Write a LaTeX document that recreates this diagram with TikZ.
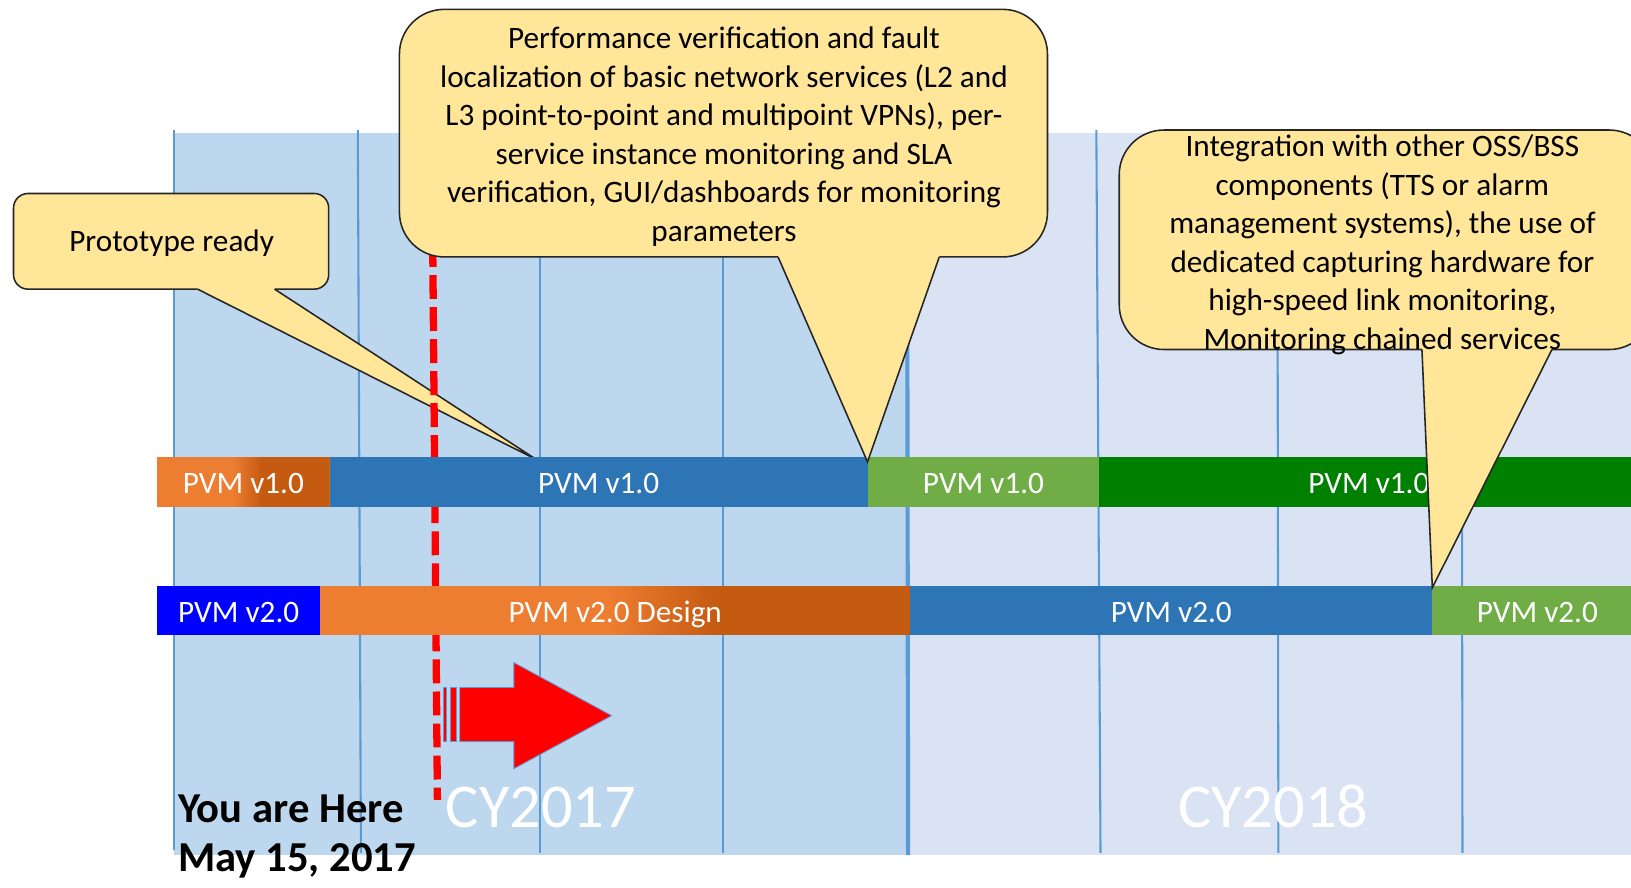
\documentclass[tikz,border=0pt]{standalone}
\usepackage{fontspec}
\setmainfont{Carlito}
\usetikzlibrary{calc}

\definecolor{panelL}{HTML}{BDD7EE}
\definecolor{panelR}{HTML}{DAE3F3}
\definecolor{gridln}{HTML}{5B9BD5}
\definecolor{barblue}{HTML}{2E75B6}
\definecolor{barlime}{HTML}{70AD47}
\definecolor{bargreen}{HTML}{008000}
\definecolor{barpure}{HTML}{0000FF}
\definecolor{orgA}{HTML}{ED7D31}
\definecolor{orgB}{HTML}{C55A11}
\definecolor{notefill}{HTML}{FFE699}
\definecolor{noteline}{HTML}{262626}

\begin{document}
\begin{tikzpicture}[x=1pt,y=1pt,
  gridline/.style={draw=gridln, line width=2pt},
  bar/.style={anchor=west, minimum height=48pt, inner sep=0pt, outer sep=0pt,
    text=white, font=\fontsize{30}{36}\selectfont, text height=22.5pt, text depth=0pt},
  % orange bar that fades from light to dark orange between fractions #1 and #2
  orangebar/.style 2 args={bar, fill=orgA, path picture={
    \coordinate (pw) at (path picture bounding box.south west);
    \coordinate (pe) at (path picture bounding box.south east);
    \coordinate (qw) at (path picture bounding box.north west);
    \coordinate (qe) at (path picture bounding box.north east);
    \foreach \k in {0,...,29} {
      \pgfmathsetmacro\fa{#1+(#2-#1)*\k/30}
      \pgfmathsetmacro\fb{#1+(#2-#1)*(\k+1.2)/30}
      \pgfmathtruncatemacro\pc{100*(\k+0.5)/30}
      \fill[orgB!\pc!orgA] ($(pw)!\fa!(pe)$) rectangle ($(qw)!\fb!(qe)$);
    }
    \fill[orgB] ($(pw)!#2!(pe)$) rectangle (qe);
  }},
  notebox/.style={fill=notefill, draw=noteline, line width=1.5pt},
  tailfill/.style={fill=notefill},
  tailline/.style={draw=noteline, line width=1.5pt},
  notetext/.style={font=\fontsize{30}{37}\selectfont, align=center, inner sep=0pt},
  arrowpart/.style={fill=red, draw=gridln, line width=0.8pt},
  yeartext/.style={anchor=base, text=white, inner sep=0pt, font=\fontsize{60}{72}\selectfont},
  heretext/.style={anchor=base west, inner sep=0pt, font=\bfseries\fontsize{41}{47}\selectfont},
]
\useasboundingbox (0,0) rectangle (1568,-853);

% year panels
\fill[panelL] (167,-127.5) rectangle (872,-822);
\fill[panelR] (872,-127.5) rectangle (1568,-822);

% quarter lines
\draw[gridline] (167,-125) -- (167,-817);
\draw[gridline] (344,-125) -- (347,-820);
\draw[gridline] (519,-125) -- (519,-820);
\draw[gridline] (695,-125) -- (695,-820);
\draw[gridline, line width=4pt] (872,-125) -- (873,-822);
\draw[gridline] (1054,-125) -- (1058,-820);
\draw[gridline] (1228,-125) -- (1229,-820);
\draw[gridline] (1405,-125) -- (1406,-820);

% "Prototype ready" callout
\draw[notebox, rounded corners=14pt] (13,-186) rectangle (316,-278);
\fill[tailfill] (190,-278) -- (516,-442) -- (264,-278) -- (264,-275) -- (190,-275) -- cycle;
\draw[tailline] (190,-278) -- (516,-442) -- (264,-278);
\node[notetext, anchor=base] (proto) at (165,-242) {Prototype ready};

% today marker
\draw[red, line width=7pt, dash pattern=on 23pt off 7.8pt] (416,-233.6) -- (420.5,-769);

% release bars, v1.0
\node[orangebar={0.44}{0.61}, minimum width=166pt] (a1) at (151,-463) {PVM v1.0};
\node[bar, fill=barblue, minimum width=517pt] (a2) at (317,-463) {PVM v1.0};
\node[bar, fill=barlime, minimum width=223pt] (a3) at (834,-463) {PVM v1.0};
\node[bar, fill=bargreen, minimum width=518pt] (a4) at (1057,-463) {PVM v1.0};

% release bars, v2.0
\node[bar, fill=barpure, minimum width=157pt, minimum height=47.5pt] (b1) at (151,-586.75) {PVM v2.0};
\node[orangebar={0.49}{0.67}, minimum width=567pt, minimum height=47.5pt] (b2) at (308,-586.75) {PVM v2.0 Design};
\node[bar, fill=barblue, minimum width=502pt, minimum height=47.5pt] (b3) at (875,-586.75) {PVM v2.0};
\node[bar, fill=barlime, minimum width=202pt, minimum height=47.5pt] (b4) at (1377,-586.75) {PVM v2.0};

% basic services callout
\draw[notebox, rounded corners=43pt] (384,-9) rectangle (1007,-247);
\fill[tailfill] (748,-247) -- (834,-444) -- (903,-247) -- (903,-244) -- (748,-244) -- cycle;
\draw[tailline] (748,-247) -- (834,-444) -- (903,-247);
\node[notetext] (perf) at (696,-131.4) {Performance verification and fault\\
localization of basic network services (L2 and\\
L3 point-to-point and multipoint VPNs), per-\\
service instance monitoring and SLA\\
verification, GUI/dashboards for monitoring\\
parameters};

% integration callout
\draw[notebox, rounded corners=43pt] (1076,-125) rectangle (1590,-336);
\fill[tailfill] (1367,-336) -- (1377,-565) -- (1492,-336) -- (1492,-333) -- (1367,-333) -- cycle;
\draw[tailline] (1367,-336) -- (1377,-565) -- (1492,-336);
\node[notetext] (integ) at (1329,-235.2) {Integration with other OSS/BSS\\
components (TTS or alarm\\
management systems), the use of\\
dedicated capturing hardware for\\
high-speed link monitoring,\\
Monitoring chained services};

% striped progress arrow
\draw[arrowpart] (426,-661) rectangle (429,-713);
\draw[arrowpart] (433,-661) rectangle (439,-713);
\draw[arrowpart] (442,-661) -- (494,-661) -- (494,-637) -- (588,-688)
  -- (494,-739) -- (494,-713) -- (442,-713) -- cycle;

% year labels
\node[yeartext] (cy17) at (520,-796) {CY2017};
\node[yeartext] (cy18) at (1224,-796) {CY2018};

% current date
\node[heretext] (here) at (171,-791) {You are Here};
\node[heretext] (date) at (171,-838) {May 15, 2017};
\end{tikzpicture}
\end{document}
